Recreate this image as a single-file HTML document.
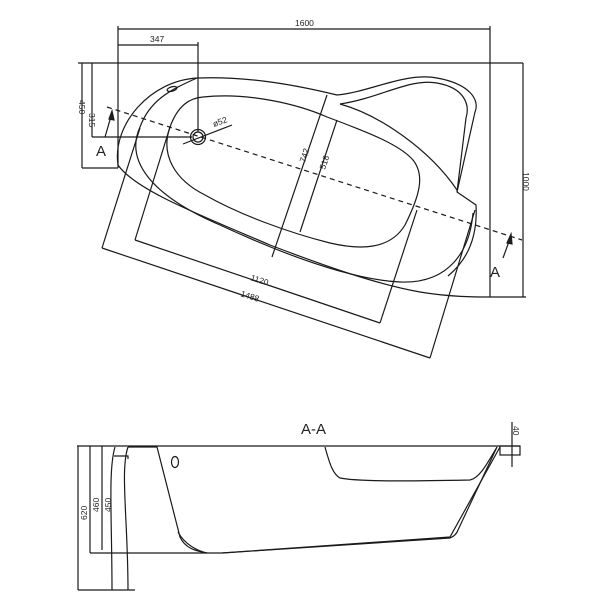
<!DOCTYPE html>
<html><head><style>
html,body{margin:0;padding:0;background:#fff;}
svg{display:block;}
text{font-family:"Liberation Sans",sans-serif;fill:#222;}
</style></head><body>
<svg width="600" height="600" viewBox="0 0 600 600" xmlns="http://www.w3.org/2000/svg">
<g fill="none" stroke="#1a1a1a" stroke-width="1.2">
<!-- top dims -->
<line x1="118" y1="29" x2="490" y2="29"/>
<line x1="118" y1="45" x2="198" y2="45"/>
<line x1="118" y1="26" x2="118" y2="168"/>
<line x1="198" y1="42" x2="198" y2="132"/>
<line x1="490" y1="26" x2="490" y2="297"/>
<line x1="78" y1="63" x2="523" y2="63"/>
<line x1="523" y1="63" x2="523" y2="297"/>
<line x1="490" y1="297" x2="526" y2="297"/>
<line x1="82" y1="63" x2="82" y2="168"/>
<line x1="82" y1="168" x2="118" y2="168"/>
<line x1="92" y1="63" x2="92" y2="137"/>
<line x1="92" y1="137" x2="192" y2="137"/>
<!-- centre line -->
<line x1="107" y1="107" x2="522" y2="240" stroke-dasharray="5,4"/>
<!-- section arrows -->
<line x1="105" y1="137" x2="112" y2="113"/>
<path d="M109,119 L112,111 L114,120 Z" fill="#222"/>
<line x1="503" y1="258" x2="511" y2="236"/>
<path d="M507,243 L511,234 L512,244 Z" fill="#222"/>
<!-- outer rim -->
<path d="M118,165 C112,125 150,80 198,78 C250,76 300,86 337,95 C370,92 405,72 437,78 C470,84 480,100 475,112 L457,192 L476,205 C478,240 465,262 448,276"/>
<path d="M118,165 C135,190 200,215 270,245 C330,268 380,285 420,292 C450,297 475,297 490,297"/>
<!-- inner rim -->
<path d="M140,127 C125,160 150,195 220,225 C300,262 360,280 400,282 C450,284 470,250 473,213"/>
<path d="M140,127 C150,100 170,90 197,78"/>
<path d="M340,104 C380,98 410,78 437,83 C465,88 470,105 466,118 L457,192"/>
<path d="M340,104 C380,115 430,150 457,190"/>
<!-- basin -->
<path d="M203,97 C250,92 300,105 327,117 C370,133 400,145 413,160 C425,175 420,195 405,225 C390,250 360,250 330,243 C290,233 240,215 205,195 C175,180 160,155 170,127 C178,105 190,98 203,97 Z"/>
<!-- drain -->
<circle cx="198" cy="137" r="7.5"/>
<circle cx="198" cy="137" r="5"/>
<line x1="183" y1="144" x2="232" y2="125"/>
<ellipse cx="172" cy="89" rx="5" ry="2.2" transform="rotate(-15 172 89)"/>
<!-- 742 / 518 -->
<line x1="327" y1="95" x2="272" y2="257"/>
<line x1="337" y1="120" x2="300" y2="232"/>
<!-- rotated rectangle dims -->
<line x1="102" y1="248" x2="140" y2="128"/>
<line x1="102" y1="248" x2="430" y2="358"/>
<line x1="430" y1="358" x2="475" y2="210"/>
<line x1="135" y1="240" x2="170" y2="127"/>
<line x1="135" y1="240" x2="380" y2="323"/>
<line x1="380" y1="323" x2="417" y2="210"/>
<!-- section view -->
<line x1="77" y1="446" x2="520" y2="446"/>
<line x1="78" y1="446" x2="78" y2="590"/>
<line x1="78" y1="590" x2="135" y2="590"/>
<line x1="90" y1="446" x2="90" y2="553"/>
<line x1="90" y1="553" x2="207" y2="553"/>
<line x1="102" y1="446" x2="102" y2="550"/>
<path d="M115,447 C108,470 112,520 112,590"/>
<path d="M128,447 C120,470 128,520 128,590"/>
<path d="M114,456 L128,456 L128,459"/>
<path d="M128,447 L157,447 L180,537 C185,548 195,551 207,553 L222,553 L450,537 L500,447"/>
<path d="M178,532 C185,545 198,551 207,553"/>
<path d="M222,553 L450,538 C455,536 457,533 458,530"/>
<path d="M497,447 L458,530"/>
<ellipse cx="175" cy="462" rx="3.5" ry="5.5"/>
<path d="M325,447 C330,465 333,474 340,478 C360,482 420,481 470,480 C480,478 488,462 497,447"/>
<rect x="500" y="446" width="20" height="9"/>
<line x1="512" y1="422" x2="512" y2="467"/>
</g>
<g font-size="8.5">
<text x="295" y="26">1600</text>
<text x="150" y="42">347</text>
<text transform="translate(523,172) rotate(90)">1000</text>
<text transform="translate(89,113) rotate(90)">315</text>
<text transform="translate(79,100) rotate(90)">450</text>
<text transform="translate(214,127) rotate(-20)">ø52</text>
<text transform="translate(305,163) rotate(-72)">742</text>
<text transform="translate(325,170) rotate(-72)">518</text>
<text transform="translate(250,280) rotate(18)">1120</text>
<text transform="translate(240,296) rotate(18)">1488</text>
<text transform="translate(87,520) rotate(-90)">620</text>
<text transform="translate(99,512) rotate(-90)">460</text>
<text transform="translate(111,512) rotate(-90)">450</text>
<text transform="translate(513,426) rotate(90)">40</text>
</g>
<text x="96" y="156" font-size="15">A</text>
<text x="490" y="277" font-size="15">A</text>
<text x="301" y="434" font-size="15">A-A</text>
</svg>
</body></html>
